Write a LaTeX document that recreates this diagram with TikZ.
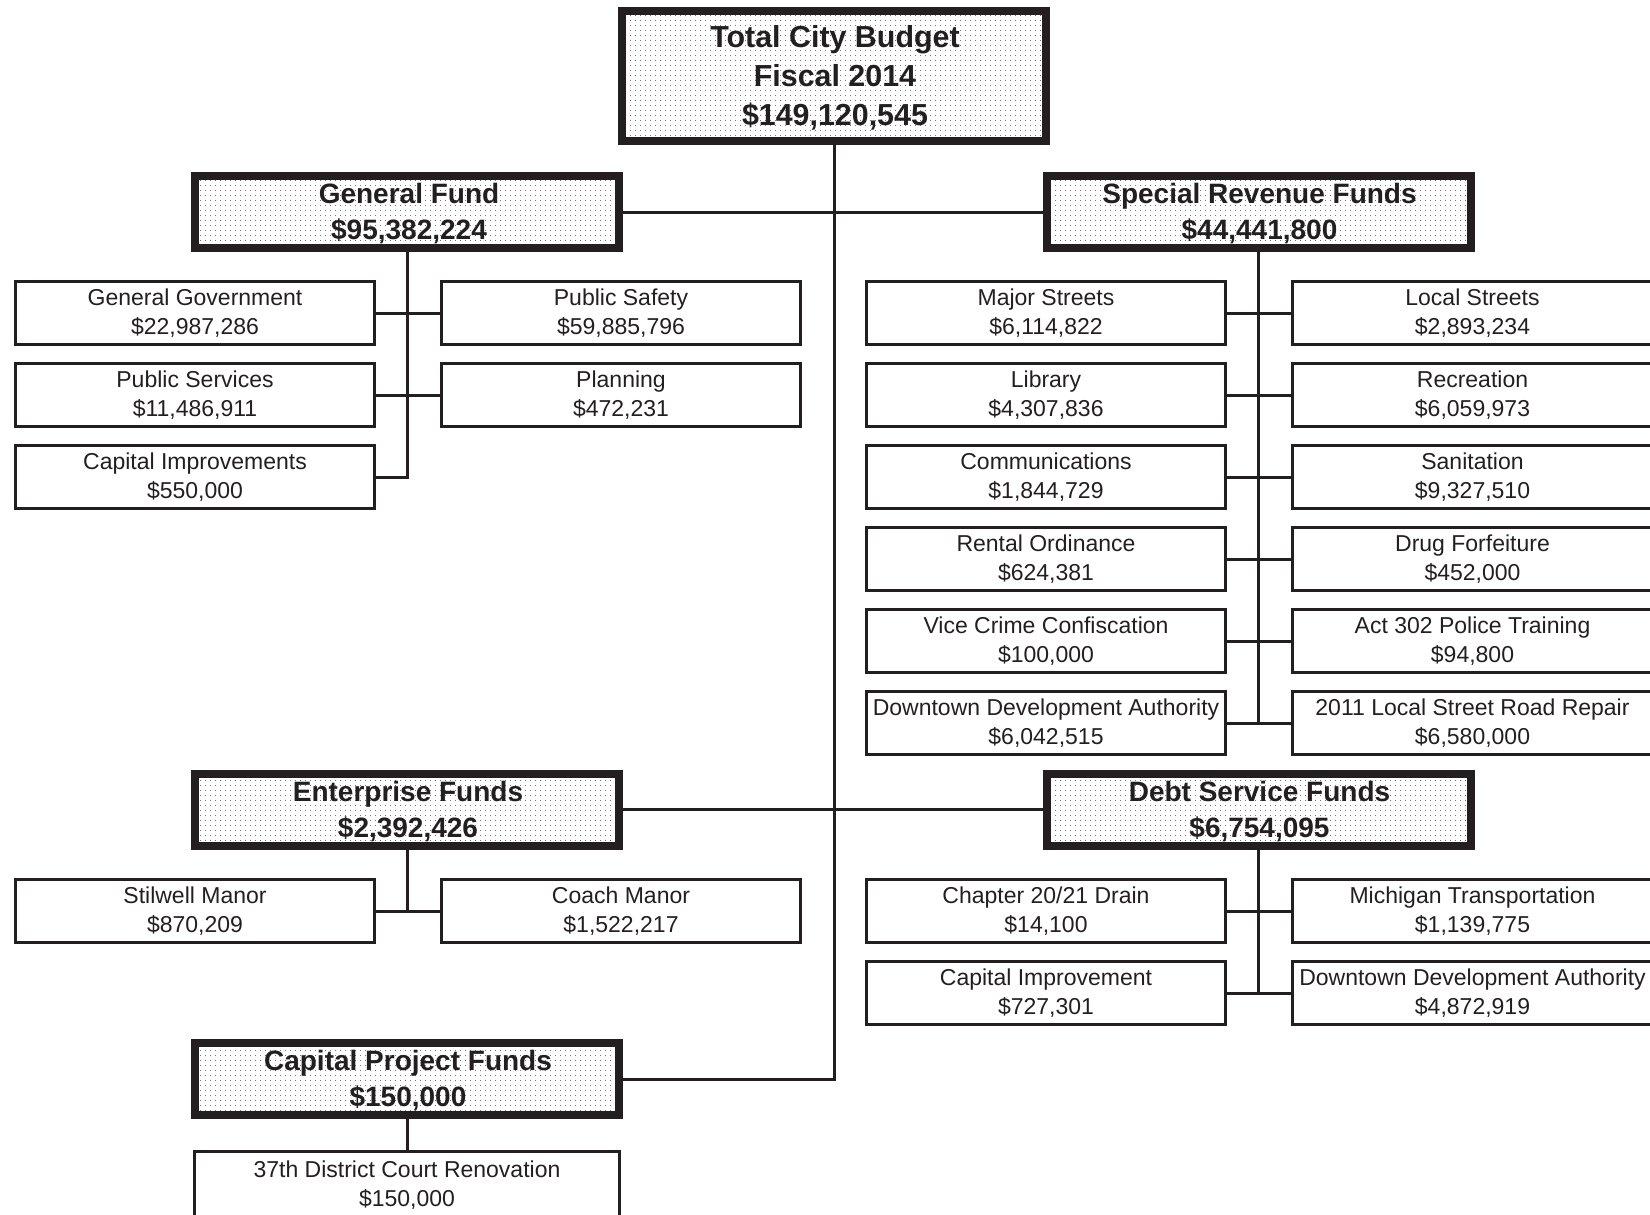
\documentclass[tikz,border=0pt]{standalone}
\usepackage{fontspec}
\setmainfont{Liberation Sans}
\usetikzlibrary{patterns.meta}
\definecolor{ink}{RGB}{35,31,32}
\tikzdeclarepattern{
  name=fdots,
  type=uncolored,
  bounding box={(-1.25pt,-1.25pt) and (1.25pt,1.25pt)},
  tile size={(2.5pt,2.5pt)},
  code={\pgfpathrectangle{\pgfpoint{-0.2pt}{-0.2pt}}{\pgfpoint{0.4pt}{0.4pt}}\pgfusepath{fill}}
}
\begin{document}
\begin{tikzpicture}[x=0.5pt,y=-0.5pt,
  item/.style={draw=ink, line width=1.5pt, minimum width=179.5pt, minimum height=31.25pt,
    inner sep=0pt, align=center, text=ink, font=\fontsize{11.5}{14.2}\selectfont},
  itemr/.style={item, minimum width=180pt},
  fund/.style={draw=ink, line width=4pt, pattern=fdots, pattern color=black!55,
    minimum width=212pt, minimum height=36pt, inner sep=0pt},
  fundtext/.style={text=ink, align=center, inner sep=0pt, font=\bfseries\fontsize{14}{18}\selectfont},
  conn/.style={draw=ink, line width=1.5pt}]
\useasboundingbox (0,0) rectangle (1650,1215);
\clip (0,0) rectangle (1650,1215);

% top and fund boxes
\node[fund, minimum height=65pt] (total) at (834,76) {};
\node[fundtext, font=\bfseries\fontsize{15.2}{19.5}\selectfont] (totalt) at (835,78)
  {Total City Budget\\Fiscal 2014\\\$149,120,545};
\node[fund] (gf) at (407,212) {};
\node[fundtext] (gft) at (409,214) {General Fund\\\$95,382,224};
\node[fund] (srf) at (1258.5,212) {};
\node[fundtext] (srft) at (1259.5,214) {Special Revenue Funds\\\$44,441,800};
\node[fund] (ef) at (407,809.5) {};
\node[fundtext] (eft) at (408,811.5) {Enterprise Funds\\\$2,392,426};
\node[fund] (dsf) at (1258.5,809.5) {};
\node[fundtext] (dsft) at (1259.5,811.5) {Debt Service Funds\\\$6,754,095};
\node[fund] (cpf) at (407,1079) {};
\node[fundtext] (cpft) at (408,1081) {Capital Project Funds\\\$150,000};

% general fund items
\node[item] (gg) at (195,313) {General Government\\\$22,987,286};
\node[item] (psaf) at (621,313) {Public Safety\\\$59,885,796};
\node[item] (pser) at (195,395) {Public Services\\\$11,486,911};
\node[item] (plan) at (621,395) {Planning\\\$472,231};
\node[item] (capi) at (195,477) {Capital Improvements\\\$550,000};

% special revenue items
\node[item] (majs) at (1046,313) {Major Streets\\\$6,114,822};
\node[itemr] (locs) at (1472.5,313) {Local Streets\\\$2,893,234};
\node[item] (lib) at (1046,395) {Library\\\$4,307,836};
\node[itemr] (rec) at (1472.5,395) {Recreation\\\$6,059,973};
\node[item] (comm) at (1046,477) {Communications\\\$1,844,729};
\node[itemr] (san) at (1472.5,477) {Sanitation\\\$9,327,510};
\node[item] (rent) at (1046,559) {Rental Ordinance\\\$624,381};
\node[itemr] (drug) at (1472.5,559) {Drug Forfeiture\\\$452,000};
\node[item] (vice) at (1046,641) {Vice Crime Confiscation\\\$100,000};
\node[itemr] (act) at (1472.5,641) {Act 302 Police Training\\\$94,800};
\node[item] (dda) at (1046,723) {Downtown Development Authority\\\$6,042,515};
\node[itemr] (road) at (1472.5,723) {2011 Local Street Road Repair\\\$6,580,000};

% enterprise items
\node[item] (stil) at (195,911) {Stilwell Manor\\\$870,209};
\node[item] (coach) at (621,911) {Coach Manor\\\$1,522,217};

% debt service items
\node[item] (drain) at (1046,911) {Chapter 20/21 Drain\\\$14,100};
\node[itemr] (mich) at (1472.5,911) {Michigan Transportation\\\$1,139,775};
\node[item] (capimp) at (1046,993) {Capital Improvement\\\$727,301};
\node[itemr] (ddad) at (1472.5,993) {Downtown Development Authority\\\$4,872,919};

% capital project item
\node[item, minimum width=212.5pt, minimum height=34pt, anchor=north] (court) at (407,1149.5) {37th District Court Renovation\\\$150,000};

% main connectors
\draw[conn] (total.south) -- (total.south |- cpf.east) -- (cpf.east);
\draw[conn] (gf.east) -- (srf.west);
\draw[conn] (ef.east) -- (dsf.west);

% general fund connectors
\draw[conn] (gf.south) -- (gf.south |- capi.east) -- (capi.east);
\draw[conn] (gg.east) -- (psaf.west);
\draw[conn] (pser.east) -- (plan.west);

% special revenue connectors
\draw[conn] (srf.south) -- (srf.south |- dda.east);
\draw[conn] (majs.east) -- (locs.west);
\draw[conn] (lib.east) -- (rec.west);
\draw[conn] (comm.east) -- (san.west);
\draw[conn] (rent.east) -- (drug.west);
\draw[conn] (vice.east) -- (act.west);
\draw[conn] (dda.east) -- (road.west);

% enterprise connectors
\draw[conn] (ef.south) -- (ef.south |- stil.east);
\draw[conn] (stil.east) -- (coach.west);

% debt service connectors
\draw[conn] (dsf.south) -- (dsf.south |- capimp.east);
\draw[conn] (drain.east) -- (mich.west);
\draw[conn] (capimp.east) -- (ddad.west);

% capital project connector
\draw[conn] (cpf.south) -- (court.north);
\end{tikzpicture}
\end{document}
